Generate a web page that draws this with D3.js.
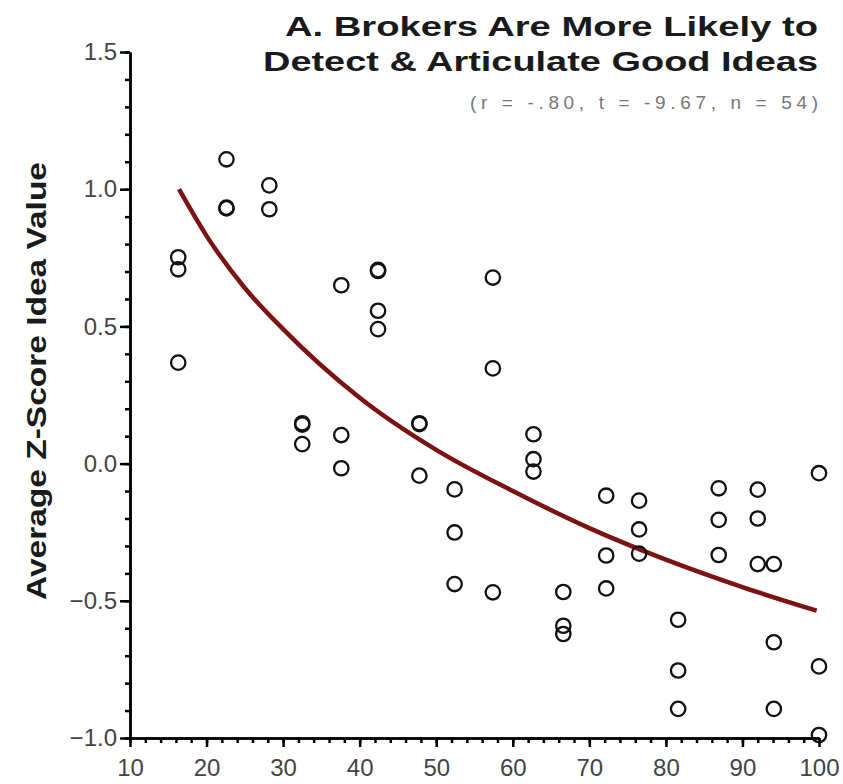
<!DOCTYPE html>
<html>
<head>
<meta charset="utf-8">
<script src="https://cdn.jsdelivr.net/npm/d3@7"></script>
<style>
  body { margin: 0; background: #fff; }
  svg { display: block; font-family: "Liberation Sans", Arial, sans-serif; }
  .tick text { fill: #444; font-size: 24px; }
</style>
</head>
<body>
<div id="chart"></div>
<script>
// brokerage (x) vs average z-score idea value (y), 54 managers
var brokerage = [16.3, 16.3, 16.3, 22.6, 22.6, 22.6, 28.2, 28.2, 32.5, 32.5,
                 32.5, 37.6, 37.6, 37.6, 42.4, 42.4, 42.4, 42.4, 47.8, 47.8,
                 47.8, 52.4, 52.4, 52.4, 57.4, 57.4, 57.4, 62.7, 62.7, 62.7,
                 66.6, 66.6, 66.6, 72.2, 72.2, 72.2, 76.5, 76.5, 76.5, 81.6,
                 81.6, 81.6, 86.9, 86.9, 86.9, 92.0, 92.0, 92.0, 94.1, 94.1,
                 94.1, 100, 100, 100];
var ideaValue = [0.752, 0.708, 0.368, 1.109, 0.933, 0.930, 1.014, 0.927, 0.147, 0.142,
                 0.071, 0.650, 0.104, -0.017, 0.706, 0.702, 0.557, 0.490, 0.147, 0.144,
                 -0.044, -0.094, -0.251, -0.439, 0.678, 0.347, -0.469, 0.107, 0.016, -0.029,
                 -0.468, -0.591, -0.621, -0.117, -0.335, -0.455, -0.135, -0.240, -0.328, -0.569,
                 -0.754, -0.894, -0.090, -0.205, -0.333, -0.095, -0.200, -0.366, -0.366, -0.651,
                 -0.894, -0.035, -0.739, -0.989];

// fitted curve
var fitX = [16.4, 20, 25, 30, 40, 50, 60, 70, 80, 90, 99.7];
var fitY = [1.00, 0.83, 0.64, 0.49, 0.24, 0.05, -0.10, -0.235, -0.35, -0.45, -0.536];

var xTicks = [10, 20, 30, 40, 50, 60, 70, 80, 90, 100];
var yTicks = [-1.0, -0.5, 0.0, 0.5, 1.0, 1.5];

var svgWidth = 843;
var svgHeight = 784;

var margin = { top: 52, right: 24, bottom: 46, left: 130 };
var width = svgWidth - margin.left - margin.right;
var height = svgHeight - margin.top - margin.bottom;

var svg = d3.select("#chart")
    .append("svg")
    .attr("width", svgWidth)
    .attr("height", svgHeight);

var chartGroup = svg.append("g")
    .attr("transform", `translate(${margin.left}, ${margin.top})`);

var xScale = d3.scaleLinear().domain([10, 100]).range([0, width]);
var yScale = d3.scaleLinear().domain([-1, 1.5]).range([height, 0]);

// minor ticks first, then the labelled axes on top
chartGroup.append("g")
    .attr("transform", `translate(0, ${height})`)
    .call(d3.axisBottom(xScale).tickValues(d3.range(10, 101, 2)).tickSize(5).tickSizeOuter(0).tickFormat(""));
chartGroup.append("g")
    .call(d3.axisLeft(yScale).tickValues(d3.range(-10, 16, 1).map(d => d / 10)).tickSize(5).tickSizeOuter(0).tickFormat(""));

chartGroup.append("g")
    .attr("transform", `translate(0, ${height})`)
    .call(d3.axisBottom(xScale).tickValues(xTicks).tickSize(9).tickSizeOuter(0).tickPadding(12).tickFormat(d3.format("d")));
chartGroup.append("g")
    .call(d3.axisLeft(yScale).tickValues(yTicks).tickSize(10).tickSizeOuter(0).tickPadding(3).tickFormat(d3.format(".1f")));

chartGroup.selectAll(".domain, .tick line")
    .attr("stroke", "#000")
    .attr("stroke-width", 2.5);

// curve
var fitData = fitX.map((x, i) => ({ x: x, y: fitY[i] }));
chartGroup.append("path")
    .datum(fitData)
    .attr("fill", "none")
    .attr("stroke", "#7d1212")
    .attr("stroke-width", 4.5)
    .attr("d", d3.line().x(d => xScale(d.x)).y(d => yScale(d.y)).curve(d3.curveMonotoneX));

// points
var points = brokerage.map((x, i) => ({ x: x, y: ideaValue[i] }));
chartGroup.selectAll("circle")
    .data(points)
    .enter()
    .append("circle")
    .attr("cx", d => xScale(d.x))
    .attr("cy", d => yScale(d.y))
    .attr("r", 7.2)
    .attr("fill", "none")
    .attr("stroke", "#111")
    .attr("stroke-width", 2.3);

// titles
svg.append("text")
    .attr("x", 818).attr("y", 36)
    .attr("text-anchor", "end")
    .attr("font-size", 28).attr("font-weight", "bold").attr("fill", "#1a1a1a")
    .attr("textLength", 533).attr("lengthAdjust", "spacingAndGlyphs")
    .text("A. Brokers Are More Likely to");
svg.append("text")
    .attr("x", 818).attr("y", 71)
    .attr("text-anchor", "end")
    .attr("font-size", 28).attr("font-weight", "bold").attr("fill", "#1a1a1a")
    .attr("textLength", 555).attr("lengthAdjust", "spacingAndGlyphs")
    .text("Detect & Articulate Good Ideas");
svg.append("text")
    .attr("x", 818).attr("y", 109)
    .attr("text-anchor", "end")
    .attr("font-size", 19).attr("fill", "#777")
    .attr("textLength", 348).attr("lengthAdjust", "spacing")
    .text("(r = -.80, t = -9.67, n = 54)");

svg.append("text")
    .attr("transform", "translate(46, 381) rotate(-90)")
    .attr("text-anchor", "middle")
    .attr("font-size", 28).attr("font-weight", "bold").attr("fill", "#1a1a1a")
    .attr("textLength", 438).attr("lengthAdjust", "spacingAndGlyphs")
    .text("Average Z-Score Idea Value");
</script>
</body>
</html>
